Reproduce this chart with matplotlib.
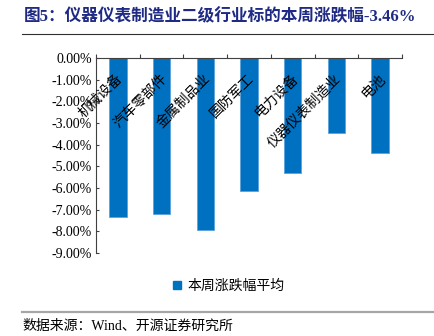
from matplotlib import pyplot as plt
from matplotlib.lines import Line2D
import numpy as np

plt.rcParams['font.family'] = ['Liberation Serif', 'Noto Sans CJK SC']

categories = ['机械设备', '汽车零部件', '金属制品业', '国防军工', '电力设备', '仪器仪表制造业', '电池']
values = [-7.33, -7.20, -7.95, -6.12, -5.30, -3.46, -4.37]
yticks = [0, -1, -2, -3, -4, -5, -6, -7, -8, -9]

bar_color = '#0070C0'

fig = plt.figure(figsize=(4.35, 3.36), dpi=100)
ax = fig.add_axes([0.2207, 0.247, 0.924 - 0.2207, 0.8274 - 0.247])

x = np.arange(len(categories))
ax.bar(x, values, width=0.4, color=bar_color, edgecolor='#5BA3DC', linewidth=0.6, zorder=2)

ax.set_xlim(-0.5, len(categories) - 0.5)
ax.set_ylim(-9, 0)

# category axis sits at the top (y = 0)
ax.spines['bottom'].set_visible(False)
ax.spines['right'].set_visible(False)
ax.spines['top'].set_color('#404040')
ax.spines['left'].set_color('#404040')
ax.spines['top'].set_linewidth(0.8)
ax.spines['left'].set_linewidth(0.8)
ax.xaxis.tick_top()
ax.set_xticks(np.arange(-0.5, len(categories), 1.0))
ax.set_xticklabels([])
ax.tick_params(axis='x', direction='out', length=3, width=0.8, color='#404040')

ax.set_yticks(yticks)
ax.set_yticklabels(['%.2f%%' % v for v in yticks], fontsize=10)
ax.tick_params(axis='y', direction='in', length=2.5, width=0.8, color='#404040', pad=3)

for i, name in enumerate(categories):
    ax.text(i - 0.05, -0.62, name, rotation=45, rotation_mode='anchor',
            ha='right', va='top', fontsize=10, family=['Noto Sans CJK SC'], zorder=3)

# title
fig.text(24 / 435, 1 - 17 / 336, '图5：仪器仪表制造业二级行业标的本周涨跌幅-3.46%',
         fontsize=12, fontweight='bold', color='#1F2A85', ha='left', va='center')
fig.add_artist(Line2D([22 / 435, 1.0], [1 - 34 / 336, 1 - 34 / 336], color='#303030', linewidth=0.8))

# legend
handle = Line2D([], [], marker='s', linestyle='none', markersize=6, color=bar_color)
fig.legend([handle], ['本周涨跌幅平均'], loc='center', bbox_to_anchor=(228 / 435, 1 - 286 / 336),
           frameon=False, handlelength=0.8, handletextpad=0.3,
           prop={'family': ['Noto Sans CJK SC'], 'size': 10})

# source line
fig.add_artist(Line2D([22 / 435, 1.0], [1 - 312 / 336, 1 - 312 / 336], color='#A6A6A6', linewidth=1.6))
fig.text(22 / 435, 1 - 326 / 336, '数据来源：Wind、开源证券研究所', fontsize=10, ha='left', va='center')

fig.savefig('out.png', dpi=100)
